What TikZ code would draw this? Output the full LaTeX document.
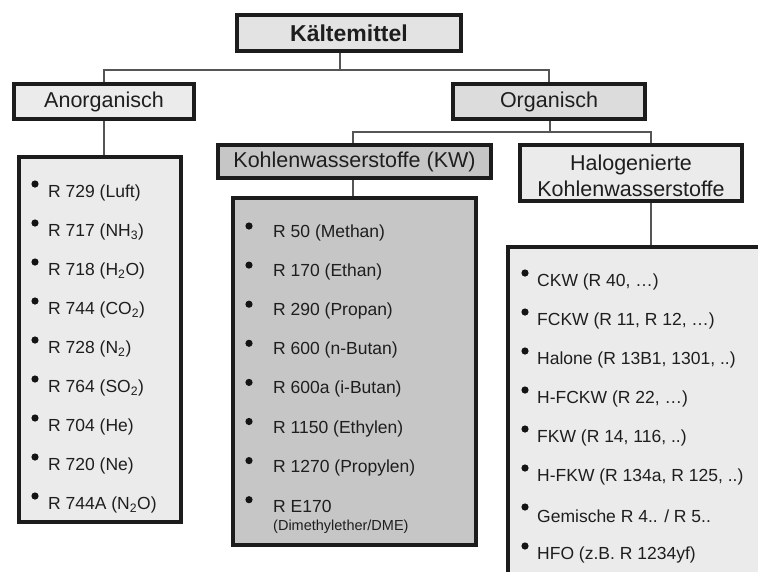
\documentclass[tikz,border=0pt]{standalone}
\usepackage{fontspec}
\setmainfont{Liberation Sans}
\definecolor{gKm}{HTML}{E3E3E3}
\definecolor{gOrg}{HTML}{DCDCDC}
\definecolor{gLight}{HTML}{EBEBEB}
\definecolor{gKW}{HTML}{C6C6C6}
\definecolor{gBord}{HTML}{1C1C1C}
\definecolor{gConn}{HTML}{555555}
\definecolor{gText}{HTML}{1E1E1E}
\begin{document}
\begin{tikzpicture}[x=1pt,y=-1pt,
  box/.style={rectangle, draw=gBord, line width=4pt, inner sep=0pt, text=gText},
  hdr/.style={box, font=\fontsize{21.5}{26}\selectfont, align=center},
  conn/.style={draw=gConn, line width=1.3pt},
  item/.style={anchor=west, inner sep=0pt, text=gText, font=\fontsize{17.5}{21}\selectfont},
  bul/.style={fill=black!92}]
\clip (0,0) rectangle (758,571);
\fill[white] (0,0) rectangle (758,571);
% headers
\node[hdr, font=\bfseries\fontsize{23}{28}\selectfont, fill=gKm, minimum width=224pt, minimum height=36pt] (km) at (349,33) {Kältemittel};
\node[hdr, fill=gLight, minimum width=180pt, minimum height=35pt] (an) at (104,101.5) {Anorganisch};
\node[hdr, fill=gOrg, minimum width=192pt, minimum height=35pt] (org) at (549,101.5) {Organisch};
\node[hdr, fill=gKW, minimum width=273pt, minimum height=33pt] (kw) at (354.5,161.5) {Kohlenwasserstoffe (KW)};
\node[hdr, fill=gLight, minimum width=222pt, minimum height=56pt,
  label={[align=center, inner sep=0pt, text=gText, font=\fontsize{21.5}{26}\selectfont, yshift=-3pt]center:Halogenierte\\Kohlenwasserstoffe}] (hal) at (631,173) {};
% lists
\node[box, fill=gLight, minimum width=162pt, minimum height=365pt] (al) at (100,339.5) {};
\node[box, fill=gKW, minimum width=243pt, minimum height=347pt] (kl) at (354.5,371.5) {};
\node[box, fill=gLight, minimum width=280pt, minimum height=360pt] (hl) at (648,427) {};
% connectors
\coordinate (j1) at (340,70);
\coordinate (j2) at (550,132);
\coordinate (j3) at (651,132);
\coordinate (kx) at (353,132);
\draw[conn] (km.south -| j1) -- (j1);
\draw[conn] (an.north) |- (j1) -| (org.north);
\draw[conn] (org.south -| j2) -- (j2);
\draw[conn] (kw.north -| kx) -- (kx) -- (j3) -- (hal.north -| j3);
\draw[conn] (an.south) -- (an.south |- al.north);
\draw[conn] (kw.south -| kx) -- (kl.north -| kx);
\draw[conn] (hal.south -| j3) -- (hl.north -| j3);
% items anorganisch
\foreach \t [count=\i from 0] in {{R 729 (Luft)},{R 717 (NH\textsubscript{3})},{R 718 (H\textsubscript{2}O)},{R 744 (CO\textsubscript{2})},{R 728 (N\textsubscript{2})},{R 764 (SO\textsubscript{2})},{R 704 (He)},{R 720 (Ne)},{R 744A (N\textsubscript{2}O)}} {
  \node[item] (a\i) at (48,193+39*\i) {\t};
  \fill[bul] (35,184+39*\i) circle (3.6pt);
}
% items KW
\foreach \t [count=\i from 0] in {{R 50 (Methan)},{R 170 (Ethan)},{R 290 (Propan)},{R 600 (n-Butan)},{R 600a (i-Butan)},{R 1150 (Ethylen)},{R 1270 (Propylen)},{R E170}} {
  \node[item] (k\i) at (273,233+39.1*\i) {\t};
  \fill[bul] (249,226+39.1*\i) circle (3.6pt);
}
\node[item, font=\fontsize{14.5}{17}\selectfont] (k8) at (273,527) {(Dimethylether/DME)};
% items halogeniert
\foreach \t [count=\i from 0] in {{CKW (R 40, …)},{FCKW (R 11, R 12, …)},{Halone (R 13B1, 1301, ..)},{H-FCKW (R 22, …)},{FKW (R 14, 116, ..)},{H-FKW (R 134a, R 125, ..)},{Gemische R 4.. / R 5..},{HFO (z.B. R 1234yf)}} {
  \node[item] (h\i) at (537,282+39*\i) {\t};
  \fill[bul] (525,273+39*\i) circle (3.6pt);
}
\end{tikzpicture}
\end{document}
